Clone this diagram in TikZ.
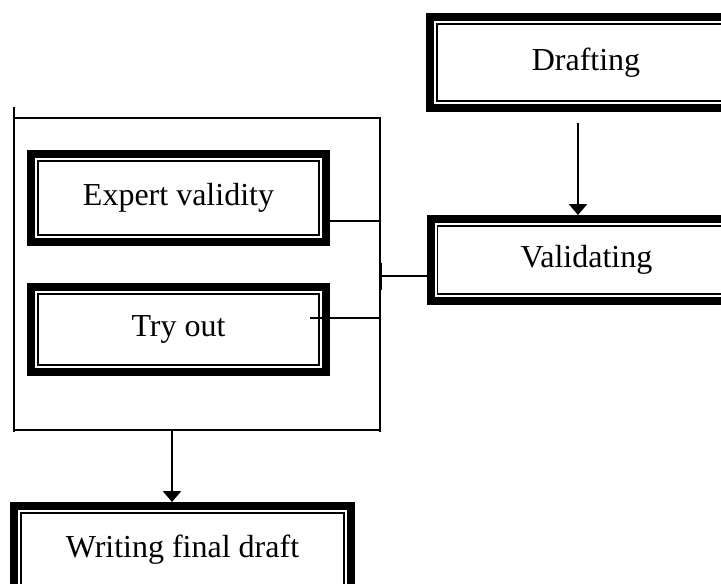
\documentclass[tikz,border=0pt]{standalone}
\usepackage{fontspec}
\setmainfont{Liberation Serif}
\usetikzlibrary{arrows.meta}

\begin{document}
\begin{tikzpicture}[x=0.5pt,y=-0.5pt,
  >={Triangle[width=9pt,length=5.5pt]},
  stage/.style={draw,line width=4pt,inner sep=0pt,font=\fontsize{16}{19}\selectfont,
    path picture={\draw [line width=0.75pt] ([shift={(3.6pt,3.6pt)}]path picture bounding box.south west) rectangle ([shift={(-3.6pt,-3.6pt)}]path picture bounding box.north east);}},
  link/.style={line width=0.6pt},
  flow/.style={->,line width=1.4pt}]
\useasboundingbox (0,0) rectangle (721,583);
\clip (0,0) rectangle (721,583);
% Stages
\node (draft) at (586,62.5) [stage,minimum width=156pt,minimum height=45.5pt] {Drafting};
\node (valid) at (586.5,260) [stage,minimum width=156pt,minimum height=41pt] {Validating};
\node (expert) at (178.5,198) [stage,minimum width=147.5pt,minimum height=44pt] {Expert validity};
\node (tryout) at (178.5,329.5) [stage,minimum width=147.5pt,minimum height=42.5pt] {Try out};
\node (final) at (182.5,549.5) [stage,minimum width=168.5pt,minimum height=43.5pt] {Writing final draft};
% Frame
\draw [line width=0.7pt] (14,107) -- (14,432);
\draw [line width=0.7pt] (14,118) -- (380,118) -- (380,432);
\draw [line width=0.7pt] (14,430) -- (380,430);
\draw [line width=0.7pt] (381.5,263) -- (381.5,290);
% Links to the frame
\coordinate (expertout) at (380,221);
\coordinate (tryend) at (310,318);
\coordinate (tryhub) at (380,318);
\coordinate (hub) at (380,276);
\draw [link] (expert.east |- expertout) -- (expertout);
\draw [link] (tryend) -- (tryhub);
\draw [link] (hub) -- (valid.west |- hub);
% Arrows
\coordinate (framebottom) at (172,430);
\coordinate (drafttop) at (578,123);
\draw [flow] (drafttop) -- (valid.north -| drafttop);
\draw [flow] (framebottom) -- (final.north -| framebottom);
\end{tikzpicture}
\end{document}
